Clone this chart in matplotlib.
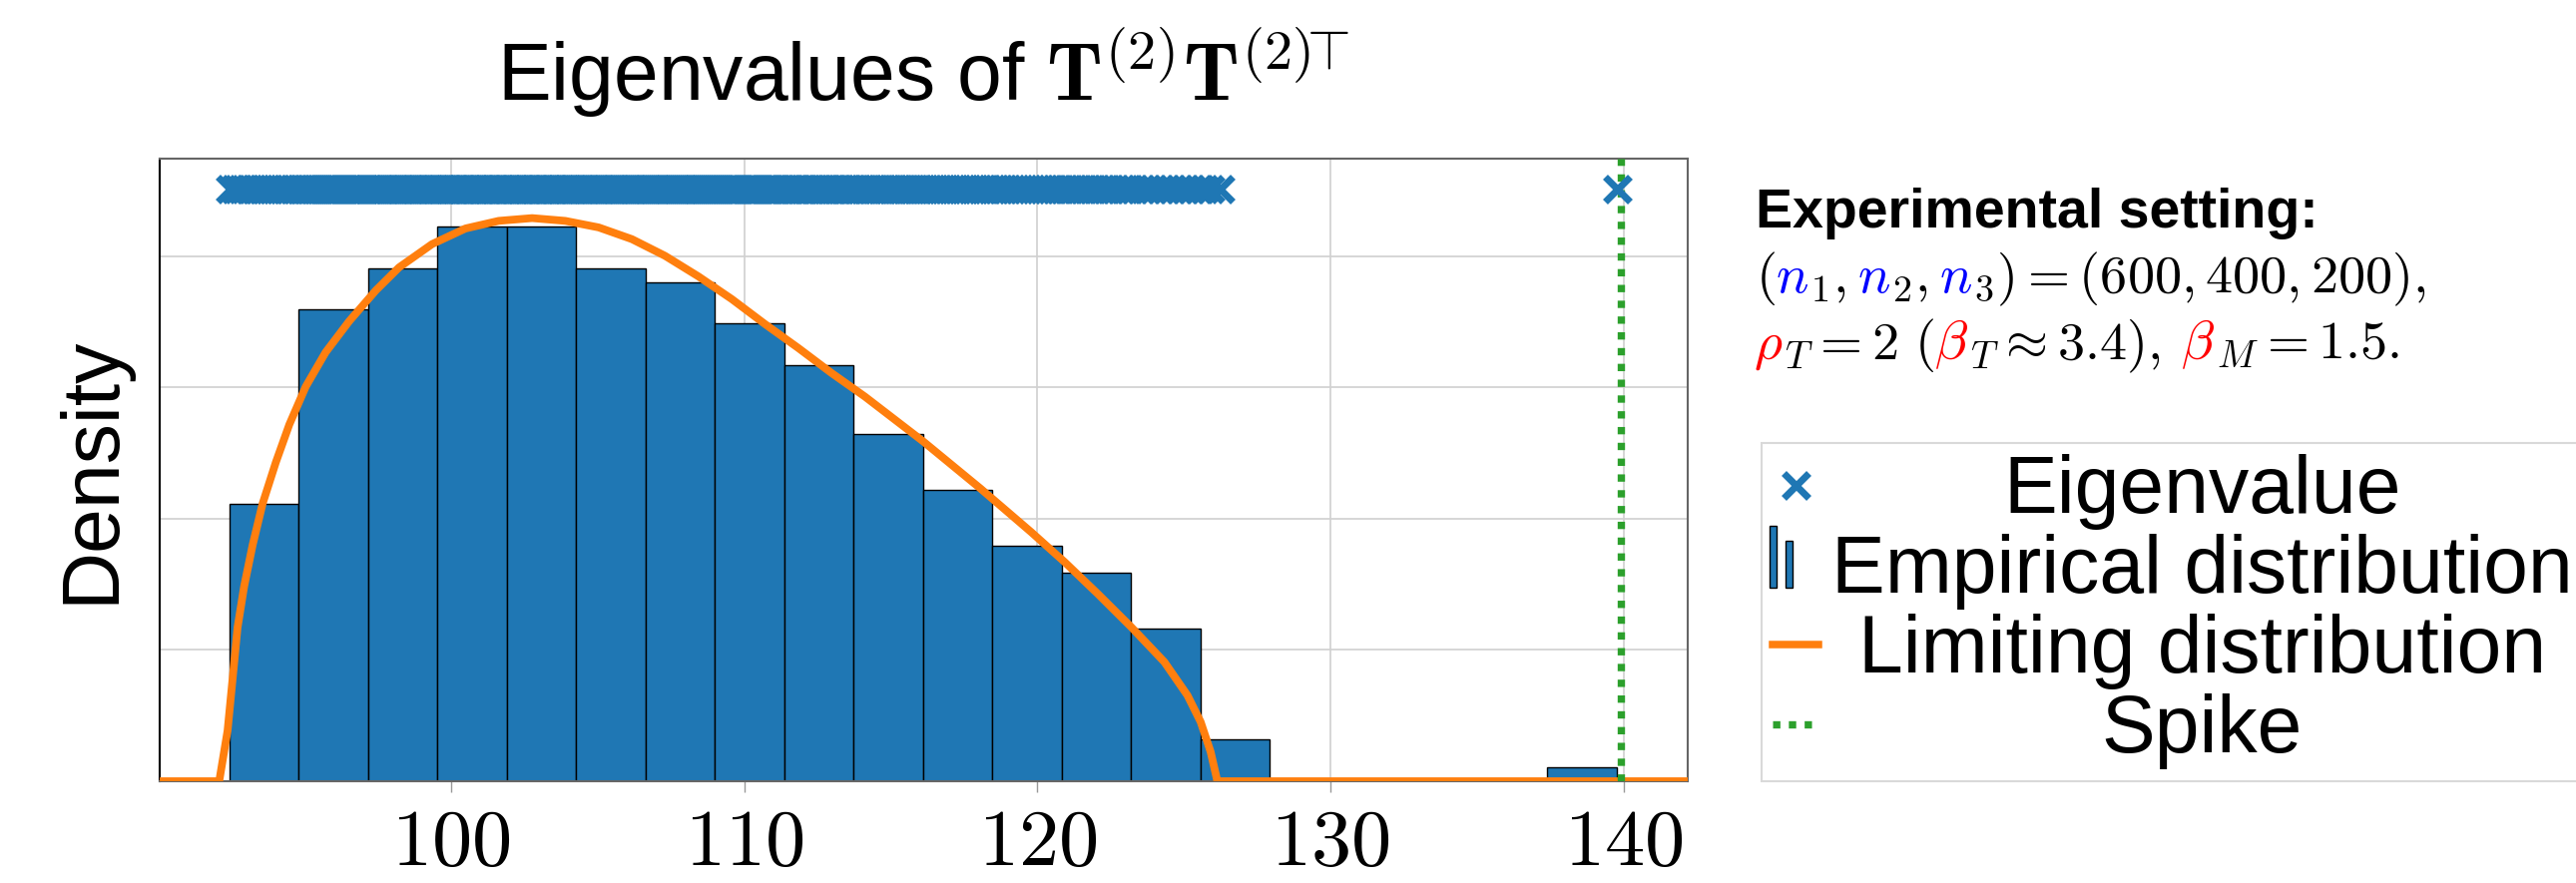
import numpy as np
import matplotlib
matplotlib.use("Agg")
import matplotlib.pyplot as plt
from matplotlib.legend_handler import HandlerBase
from matplotlib.lines import Line2D
from matplotlib.patches import Rectangle

plt.rcParams['font.family'] = ['Liberation Sans', 'DejaVu Sans']
plt.rcParams['mathtext.fontset'] = 'cm'

# histogram (n2 = 400 eigenvalues, 20 bins)
bin_start = 92.436
bin_width = 2.366
n_bins = 20
bulk_counts = [20, 34, 37, 40, 40, 37, 36, 33, 30, 25, 21, 17, 15, 11, 3]
bulk_max = 126.2        # largest bulk eigenvalue
spike_eig = 139.75      # isolated eigenvalue
spike_pos = 139.9       # predicted spike location

# limiting density
curve_x = [90.07, 92.10, 92.385, 92.555, 92.725, 92.95, 93.24, 93.58, 94.03, 94.49,
           95.05, 95.73, 96.53, 97.44, 98.23, 99.36, 100.50, 101.63, 102.77, 103.90,
           105.04, 106.17, 107.30, 108.44, 109.58, 110.71, 111.85, 112.98, 114.12,
           116.10, 118.06, 119.79, 120.93, 122.06, 123.20, 124.33, 125.12, 125.57,
           125.91, 126.14, 142.18]
curve_y = [0.0, 0.0, 0.00385, 0.00778, 0.01171, 0.01485, 0.01800, 0.02115, 0.02429,
           0.02717, 0.03006, 0.03268, 0.03504, 0.03739, 0.03914, 0.04092, 0.04211,
           0.04269, 0.04290, 0.04269, 0.04219, 0.04130, 0.04003, 0.03846, 0.03673,
           0.03483, 0.03300, 0.03110, 0.02930, 0.02590, 0.02230, 0.01898, 0.01670,
           0.01428, 0.01175, 0.00909, 0.00654, 0.00452, 0.00224, 0.0, 0.0]

cross_y = 0.04514
xticks = [100, 110, 120, 130, 140]
labels = ['Eigenvalue', 'Empirical distribution', 'Limiting distribution', 'Spike']

# eigenvalue positions rebuilt from the bin counts
edges = bin_start + bin_width * np.arange(n_bins + 1)
eigs = []
for i, c in enumerate(bulk_counts):
    span = min(bin_width, bulk_max - edges[i])
    for k in range(c):
        eigs.append(edges[i] + span * (k + 0.5) / c)
eigs[0] = edges[0] + 0.01
eigs[-1] = bulk_max
eigs.append(spike_eig)
eigs = np.array(eigs)

W, H = 2581, 885
fig = plt.figure(figsize=(W / 100, H / 100), dpi=100)
ax = fig.add_axes([160 / W, 1 - 783 / H, (1691 - 160) / W, (783 - 159) / H])

blue, orange, green = '#1f77b4', '#ff7f0e', '#2ca02c'

ax.hist(eigs, bins=edges, density=True, color=blue, edgecolor='black', linewidth=1, zorder=2)
ax.plot(curve_x, curve_y, color=orange, lw=5.6, solid_joinstyle='round', zorder=3)
ax.axvline(spike_pos, color=green, lw=5.3, ls=(0, (1, 1.15)), zorder=4)
ax.plot(eigs, np.full(len(eigs), cross_y), ls='none', marker='x', ms=18, mew=5,
        color=blue, zorder=6)

ax.set_xlim(90.07, 142.18)
ax.set_ylim(0, 0.04743)
ax.set_yticks([0.01, 0.02, 0.03, 0.04])
ax.set_yticklabels([])
ax.tick_params(axis='y', length=0)
ax.set_xticks(xticks, ['$%d$' % t for t in xticks])
ax.tick_params(axis='x', length=8, width=1, color='#999999', labelsize=58, pad=10)
ax.grid(True, color='#d0d0d0', lw=1.2)
ax.set_axisbelow(True)
for s in ['top', 'right', 'bottom']:
    ax.spines[s].set_color('#666666')
    ax.spines[s].set_linewidth(1.5)
ax.spines['left'].set_color('black')
ax.spines['left'].set_linewidth(1.5)

ax.set_title(r'Eigenvalues of $\mathbf{T}^{(2)}\mathbf{T}^{(2)\!\!\top}$', fontsize=58, pad=42)
ax.set_ylabel('Density', fontsize=58, labelpad=18)


class HandlerTwoBars(HandlerBase):
    def create_artists(self, legend, orig_handle, xdescent, ydescent, width, height,
                       fontsize, trans):
        x0, y0 = -xdescent, -ydescent
        tall = Rectangle((x0 - 0.08 * width, y0 + 0.1 * height), 0.17 * width, 1.1 * height,
                         facecolor=blue, edgecolor='black', lw=1, transform=trans)
        short = Rectangle((x0 + 0.27 * width, y0 + 0.1 * height), 0.17 * width, 0.82 * height,
                          facecolor=blue, edgecolor='black', lw=1, transform=trans)
        return [tall, short]


handles = [
    Line2D([], [], ls='none', marker='x', ms=18, mew=5, color=blue),
    Rectangle((0, 0), 1, 1, facecolor=blue, edgecolor='black'),
    Line2D([], [], color=orange, lw=5.4),
    Line2D([], [], color=green, lw=5.3, ls=(0, (1, 1.15))),
]
leg = fig.legend(handles, labels, loc='upper left', bbox_to_anchor=(1765 / W, 1 - 444 / H),
                 fontsize=58, handlelength=0.57, handletextpad=0.16, labelspacing=0.05,
                 borderpad=0.14, borderaxespad=0, fancybox=False, edgecolor='#d9d9d9',
                 framealpha=1, handler_map={Rectangle: HandlerTwoBars()})
leg.get_frame().set_linewidth(1.5)

# experimental setting block
fig.text(1759 / W, 1 - 228 / H, 'Experimental setting:', fontsize=40, fontweight='bold',
         va='baseline')

fig.canvas.draw()
r = fig.canvas.get_renderer()

# centre the legend labels in their column
ws = [t.get_window_extent(r).width for t in leg.get_texts()]
for t, w in zip(leg.get_texts(), ws):
    t.set_x((max(ws) - w) / 2)


def colored_line(x, y, parts, size=39):
    for s, c, gap in parts:
        t = fig.text(x / W, 1 - y / H, s, color=c, fontsize=size, va='baseline')
        x += t.get_window_extent(r).width + gap


colored_line(1759, 293, [(r'$($', 'black', 0), (r'$n$', 'blue', 0), (r'${}_1,$', 'black', 11),
                         (r'$n$', 'blue', 0), (r'${}_2,$', 'black', 11), (r'$n$', 'blue', 0),
                         (r'${}_3)=(600,400,200),$', 'black', 0)])
colored_line(1757, 360, [(r'$\rho$', 'red', 0), (r'${}_T=2\ ($', 'black', 0),
                         (r'$\beta$', 'red', 0), (r'${}_T\approx 3.4),$', 'black', 20),
                         (r'$\beta$', 'red', 0), (r'${}_M=1.5.$', 'black', 0)])

fig.savefig('out.png', dpi=100)
